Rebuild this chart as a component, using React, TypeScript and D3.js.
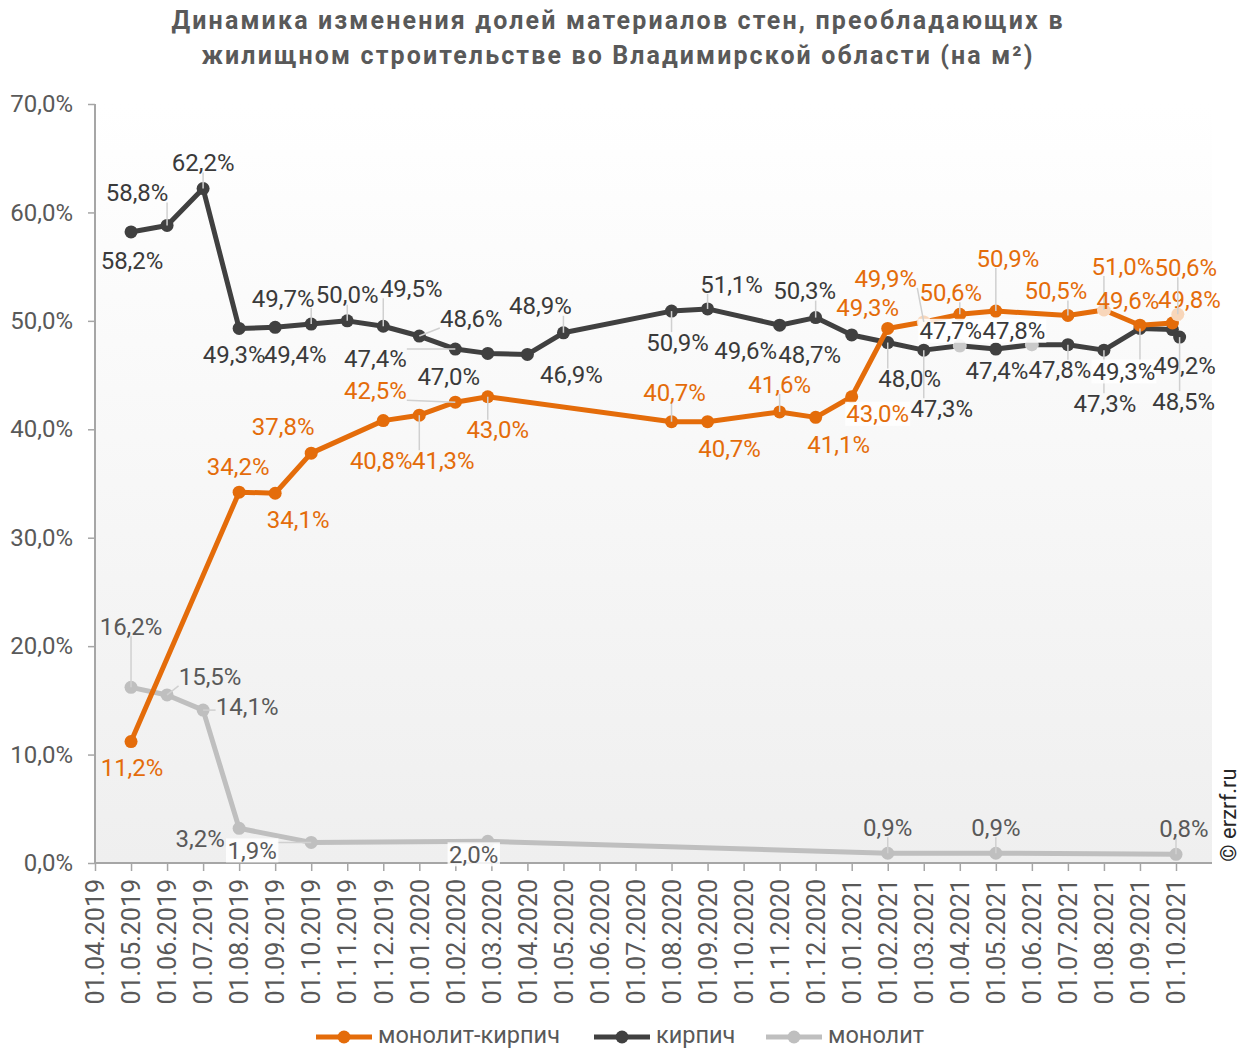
import { useEffect, useRef } from "react";
import * as d3 from "d3";

// ── Data ─────────────────────────────────────────────────────────────────────

const categories = [
  "01.04.2019", "01.05.2019", "01.06.2019", "01.07.2019", "01.08.2019",
  "01.09.2019", "01.10.2019", "01.11.2019", "01.12.2019", "01.01.2020",
  "01.02.2020", "01.03.2020", "01.04.2020", "01.05.2020", "01.06.2020",
  "01.07.2020", "01.08.2020", "01.09.2020", "01.10.2020", "01.11.2020",
  "01.12.2020", "01.01.2021", "01.02.2021", "01.03.2021", "01.04.2021",
  "01.05.2021", "01.06.2021", "01.07.2021", "01.08.2021", "01.09.2021",
  "01.10.2021",
];

const yTicks = [0, 10, 20, 30, 40, 50, 60, 70];

// position along the category axis (month index)
const monolithBrickX = [1, 4, 5, 6, 8, 9, 10, 10.9, 16, 17, 19, 20, 21, 22, 23, 24, 25, 27, 28, 29, 29.9, 30.05];
const monolithBrickValues = [11.2, 34.2, 34.1, 37.8, 40.8, 41.3, 42.5, 43.0, 40.7, 40.7, 41.6, 41.1, 43.0, 49.3, 49.9, 50.6, 50.9, 50.5, 51.0, 49.6, 49.8, 50.6];

const brickX = [1, 2, 3, 4, 5, 6, 7, 8, 9, 10, 10.9, 12, 13, 16, 17, 19, 20, 21, 22, 23, 24, 25, 26, 27, 28, 29, 29.9, 30.1];
const brickValues = [58.2, 58.8, 62.2, 49.3, 49.4, 49.7, 50.0, 49.5, 48.6, 47.4, 47.0, 46.9, 48.9, 50.9, 51.1, 49.6, 50.3, 48.7, 48.0, 47.3, 47.7, 47.4, 47.8, 47.8, 47.3, 49.3, 49.2, 48.5];

const monolithX = [1, 2, 3, 4, 6, 10.9, 22, 25, 30];
const monolithValues = [16.2, 15.5, 14.1, 3.2, 1.9, 2.0, 0.9, 0.9, 0.8];

// ── Label layout: [dx, dy, leader line, white box] ──────────────────────────

const monolithBrickLabels = [
  [1, 26, 0, 0], [-1, -26, 0, 0], [23, 26, 0, 0], [-28, -27, 0, 0], [-2, 40, 0, 0],
  [24, 45, 1, 0], [-80, -12, 1, 0], [10, 33, 1, 0], [3, -29, 1, 0], [22, 27, 0, 0],
  [0, -28, 1, 0], [23, 27, 0, 0], [26, 17, 0, 1], [-20, -21, 0, 0], [-38, -44, 1, 0],
  [-9, -22, 1, 0], [12, -53, 1, 0], [-12, -25, 1, 0], [19, -44, 1, 0], [-12, -25, 0, 0],
  [17, -24, 0, 0], [8, -47, 1, 0],
];

const brickLabels = [
  [1, 28, 0, 0], [-30, -33, 1, 0], [0, -26, 1, 0], [-5, 26, 0, 0], [20, 27, 0, 0],
  [-28, -26, 1, 0], [0, -26, 1, 0], [28, -38, 1, 0], [52, -18, 1, 0], [-80, 9, 1, 0],
  [-39, 23, 0, 0], [44, 20, 0, 0], [-23, -27, 1, 0], [6, 31, 1, 0], [24, -25, 1, 0],
  [-34, 25, 0, 0], [-11, -27, 1, 0], [-42, 19, 0, 0], [22, 36, 1, 0], [18, 58, 1, 0],
  [-9, -15, 0, 1], [1, 21, 0, 0], [-18, -14, 0, 1], [-8, 25, 1, 0], [1, 53, 1, 0],
  [-16, 43, 1, 1], [12, 36, 0, 0], [4, 64, 1, 0],
];

const monolithLabels = [
  [0, -61, 1, 0], [43, -19, 1, 0], [44, -4, 1, 0], [-39, 10, 0, 0], [-59, 8, 1, 1],
  [-14, 13, 0, 1], [0, -26, 1, 0], [0, -26, 1, 0], [8, -26, 1, 0],
];

// markers that appear washed out in the reference
const fadedMonolithBrick = [23, 28, 30.05];
const fadedBrick = [24, 26];

// ── Styling ──────────────────────────────────────────────────────────────────

const FONT = "Roboto, 'Noto Sans', sans-serif";
const AXIS_TEXT = "#595959";
const AXIS_LINE = "#A6A6A6";
const LEADER = "#D0D0D0";

const PLOT = { left: 95, right: 1212, top: 104, bottom: 863 };

const fmt = (v: number) => v.toFixed(1).replace(".", ",") + "%";

interface Series {
  name: string;
  xs: number[];
  values: number[];
  labels: number[][];
  faded: number[];
  colour: string;
  labelColour: string;
}

const series: Series[] = [
  { name: "монолит", xs: monolithX, values: monolithValues, labels: monolithLabels, faded: [], colour: "#BFBFBF", labelColour: "#595959" },
  { name: "кирпич", xs: brickX, values: brickValues, labels: brickLabels, faded: fadedBrick, colour: "#404040", labelColour: "#3A3A3A" },
  { name: "монолит-кирпич", xs: monolithBrickX, values: monolithBrickValues, labels: monolithBrickLabels, faded: fadedMonolithBrick, colour: "#E46C0A", labelColour: "#E46C0A" },
];

const legendOrder = ["монолит-кирпич", "кирпич", "монолит"];
const legendX = [316, 594, 766];
const LEGEND_Y = 1035;

export default function App() {
  const axesRef = useRef<SVGGElement>(null);

  const x = d3.scaleLinear().domain([0, categories.length - 1]).range([PLOT.left, 1176]);
  const y = d3.scaleLinear().domain([0, 70]).range([PLOT.bottom, PLOT.top]);

  useEffect(() => {
    if (!axesRef.current) return;
    const g = d3.select(axesRef.current);
    g.selectAll("*").remove();

    g.append("g")
      .attr("transform", `translate(${PLOT.left},0)`)
      .call(d3.axisLeft(y).tickValues(yTicks).tickSize(7).tickSizeOuter(0).tickPadding(15).tickFormat((d) => fmt(+d)))
      .call((ag) => {
        ag.select(".domain").remove();
        ag.selectAll("line").attr("stroke", AXIS_LINE).attr("stroke-width", 1.5);
        ag.selectAll("text").attr("font-size", 24).attr("font-family", FONT).attr("fill", AXIS_TEXT);
      });

    g.append("g")
      .attr("transform", `translate(0,${PLOT.bottom})`)
      .call(
        d3.axisBottom(x).tickValues(d3.range(categories.length)).tickSize(8).tickSizeOuter(0)
          .tickFormat((d) => categories[+d])
      )
      .call((ag) => {
        ag.select(".domain").remove();
        ag.selectAll("line").attr("stroke", AXIS_LINE).attr("stroke-width", 1.5);
        ag.selectAll("text")
          .attr("font-size", 25)
          .attr("font-family", FONT)
          .attr("fill", AXIS_TEXT)
          .attr("transform", "rotate(-90)")
          .attr("text-anchor", "end")
          .attr("x", -16)
          .attr("y", 0)
          .attr("dy", "0.35em");
      });

    g.append("line")
      .attr("x1", PLOT.left).attr("x2", PLOT.left)
      .attr("y1", PLOT.top).attr("y2", PLOT.bottom)
      .attr("stroke", AXIS_LINE).attr("stroke-width", 2);
    g.append("line")
      .attr("x1", PLOT.left).attr("x2", PLOT.right)
      .attr("y1", PLOT.bottom).attr("y2", PLOT.bottom)
      .attr("stroke", AXIS_LINE).attr("stroke-width", 2);
  }, []);

  const line = d3
    .line<[number, number]>()
    .x((d) => x(d[0]))
    .y((d) => y(d[1]));

  return (
    <svg width={1248} height={1051} style={{ position: "absolute", left: 0, top: 0, background: "#fff" }}>
      <defs>
        <linearGradient id="plotBg" x1="0" y1="0" x2="0" y2="1">
          <stop offset="0%" stopColor="#FFFFFF" />
          <stop offset="100%" stopColor="#EFEFEF" />
        </linearGradient>
      </defs>

      {/* Title */}
      <g fontFamily={FONT} fontWeight={700} fontSize={25} fill={AXIS_TEXT} textAnchor="middle">
        <text x={617} y={29} textLength={891} lengthAdjust="spacing">
          Динамика изменения долей материалов стен, преобладающих в
        </text>
        <text x={617} y={64} textLength={831} lengthAdjust="spacing">
          жилищном строительстве во Владимирской области (на м²)
        </text>
      </g>

      <rect x={PLOT.left} y={PLOT.top} width={PLOT.right - PLOT.left} height={PLOT.bottom - PLOT.top} fill="url(#plotBg)" />

      <g ref={axesRef} />

      {/* Lines and markers */}
      {series.map((s) => {
        const pts = s.xs.map((xi, i) => [xi, s.values[i]] as [number, number]);
        return (
          <g key={s.name}>
            <path d={line(pts) ?? ""} fill="none" stroke={s.colour} strokeWidth={5} strokeLinejoin="round" />
            {pts.map((p, i) => (
              <g key={i}>
                <circle cx={x(p[0])} cy={y(p[1])} r={6.5} fill={s.colour} />
                {s.faded.includes(p[0]) && (
                  <circle cx={x(p[0])} cy={y(p[1])} r={7} fill="#fff" opacity={0.72} />
                )}
              </g>
            ))}
          </g>
        );
      })}

      {/* Data labels with leader lines */}
      {series.map((s) =>
        s.xs.map((xi, i) => {
          const [dx, dy, leader, box] = s.labels[i];
          const px = x(xi);
          const py = y(s.values[i]);
          const lx = px + dx;
          const ly = py + dy;
          const text = fmt(s.values[i]);
          const w = text.length * 12.6;
          const h = 20;
          const ex = Math.max(lx - w / 2, Math.min(px, lx + w / 2));
          const ey = Math.max(ly - h / 2, Math.min(py, ly + h / 2));
          return (
            <g key={`${s.name}-${i}`}>
              {leader === 1 && (
                <line x1={px} y1={py} x2={ex} y2={ey} stroke={LEADER} strokeWidth={1.5} />
              )}
              {box === 1 && (
                <rect x={lx - w / 2 - 1} y={ly - h / 2 - 2} width={w + 2} height={h + 4} fill="#fff" opacity={0.85} />
              )}
              <text
                x={lx}
                y={ly}
                dy="0.36em"
                textAnchor="middle"
                fontFamily={FONT}
                fontSize={24}
                fill={s.labelColour}
              >
                {text}
              </text>
            </g>
          );
        })
      )}

      {/* Legend */}
      {legendOrder.map((name, i) => {
        const s = series.find((d) => d.name === name)!;
        const lx = legendX[i];
        return (
          <g key={name}>
            <line x1={lx} x2={lx + 56} y1={LEGEND_Y + 2} y2={LEGEND_Y + 2} stroke={s.colour} strokeWidth={5} />
            <circle cx={lx + 28} cy={LEGEND_Y + 2} r={6.5} fill={s.colour} />
            <text x={lx + 62} y={LEGEND_Y} dy="0.36em" fontFamily={FONT} fontSize={23.5} fill={AXIS_TEXT}>
              {name}
            </text>
          </g>
        );
      })}

      {/* Watermark */}
      <text
        transform="translate(1228,815) rotate(-90)"
        textAnchor="middle"
        dy="0.35em"
        fontFamily={FONT}
        fontSize={22}
        fill="#262626"
      >
        © erzrf.ru
      </text>
    </svg>
  );
}
